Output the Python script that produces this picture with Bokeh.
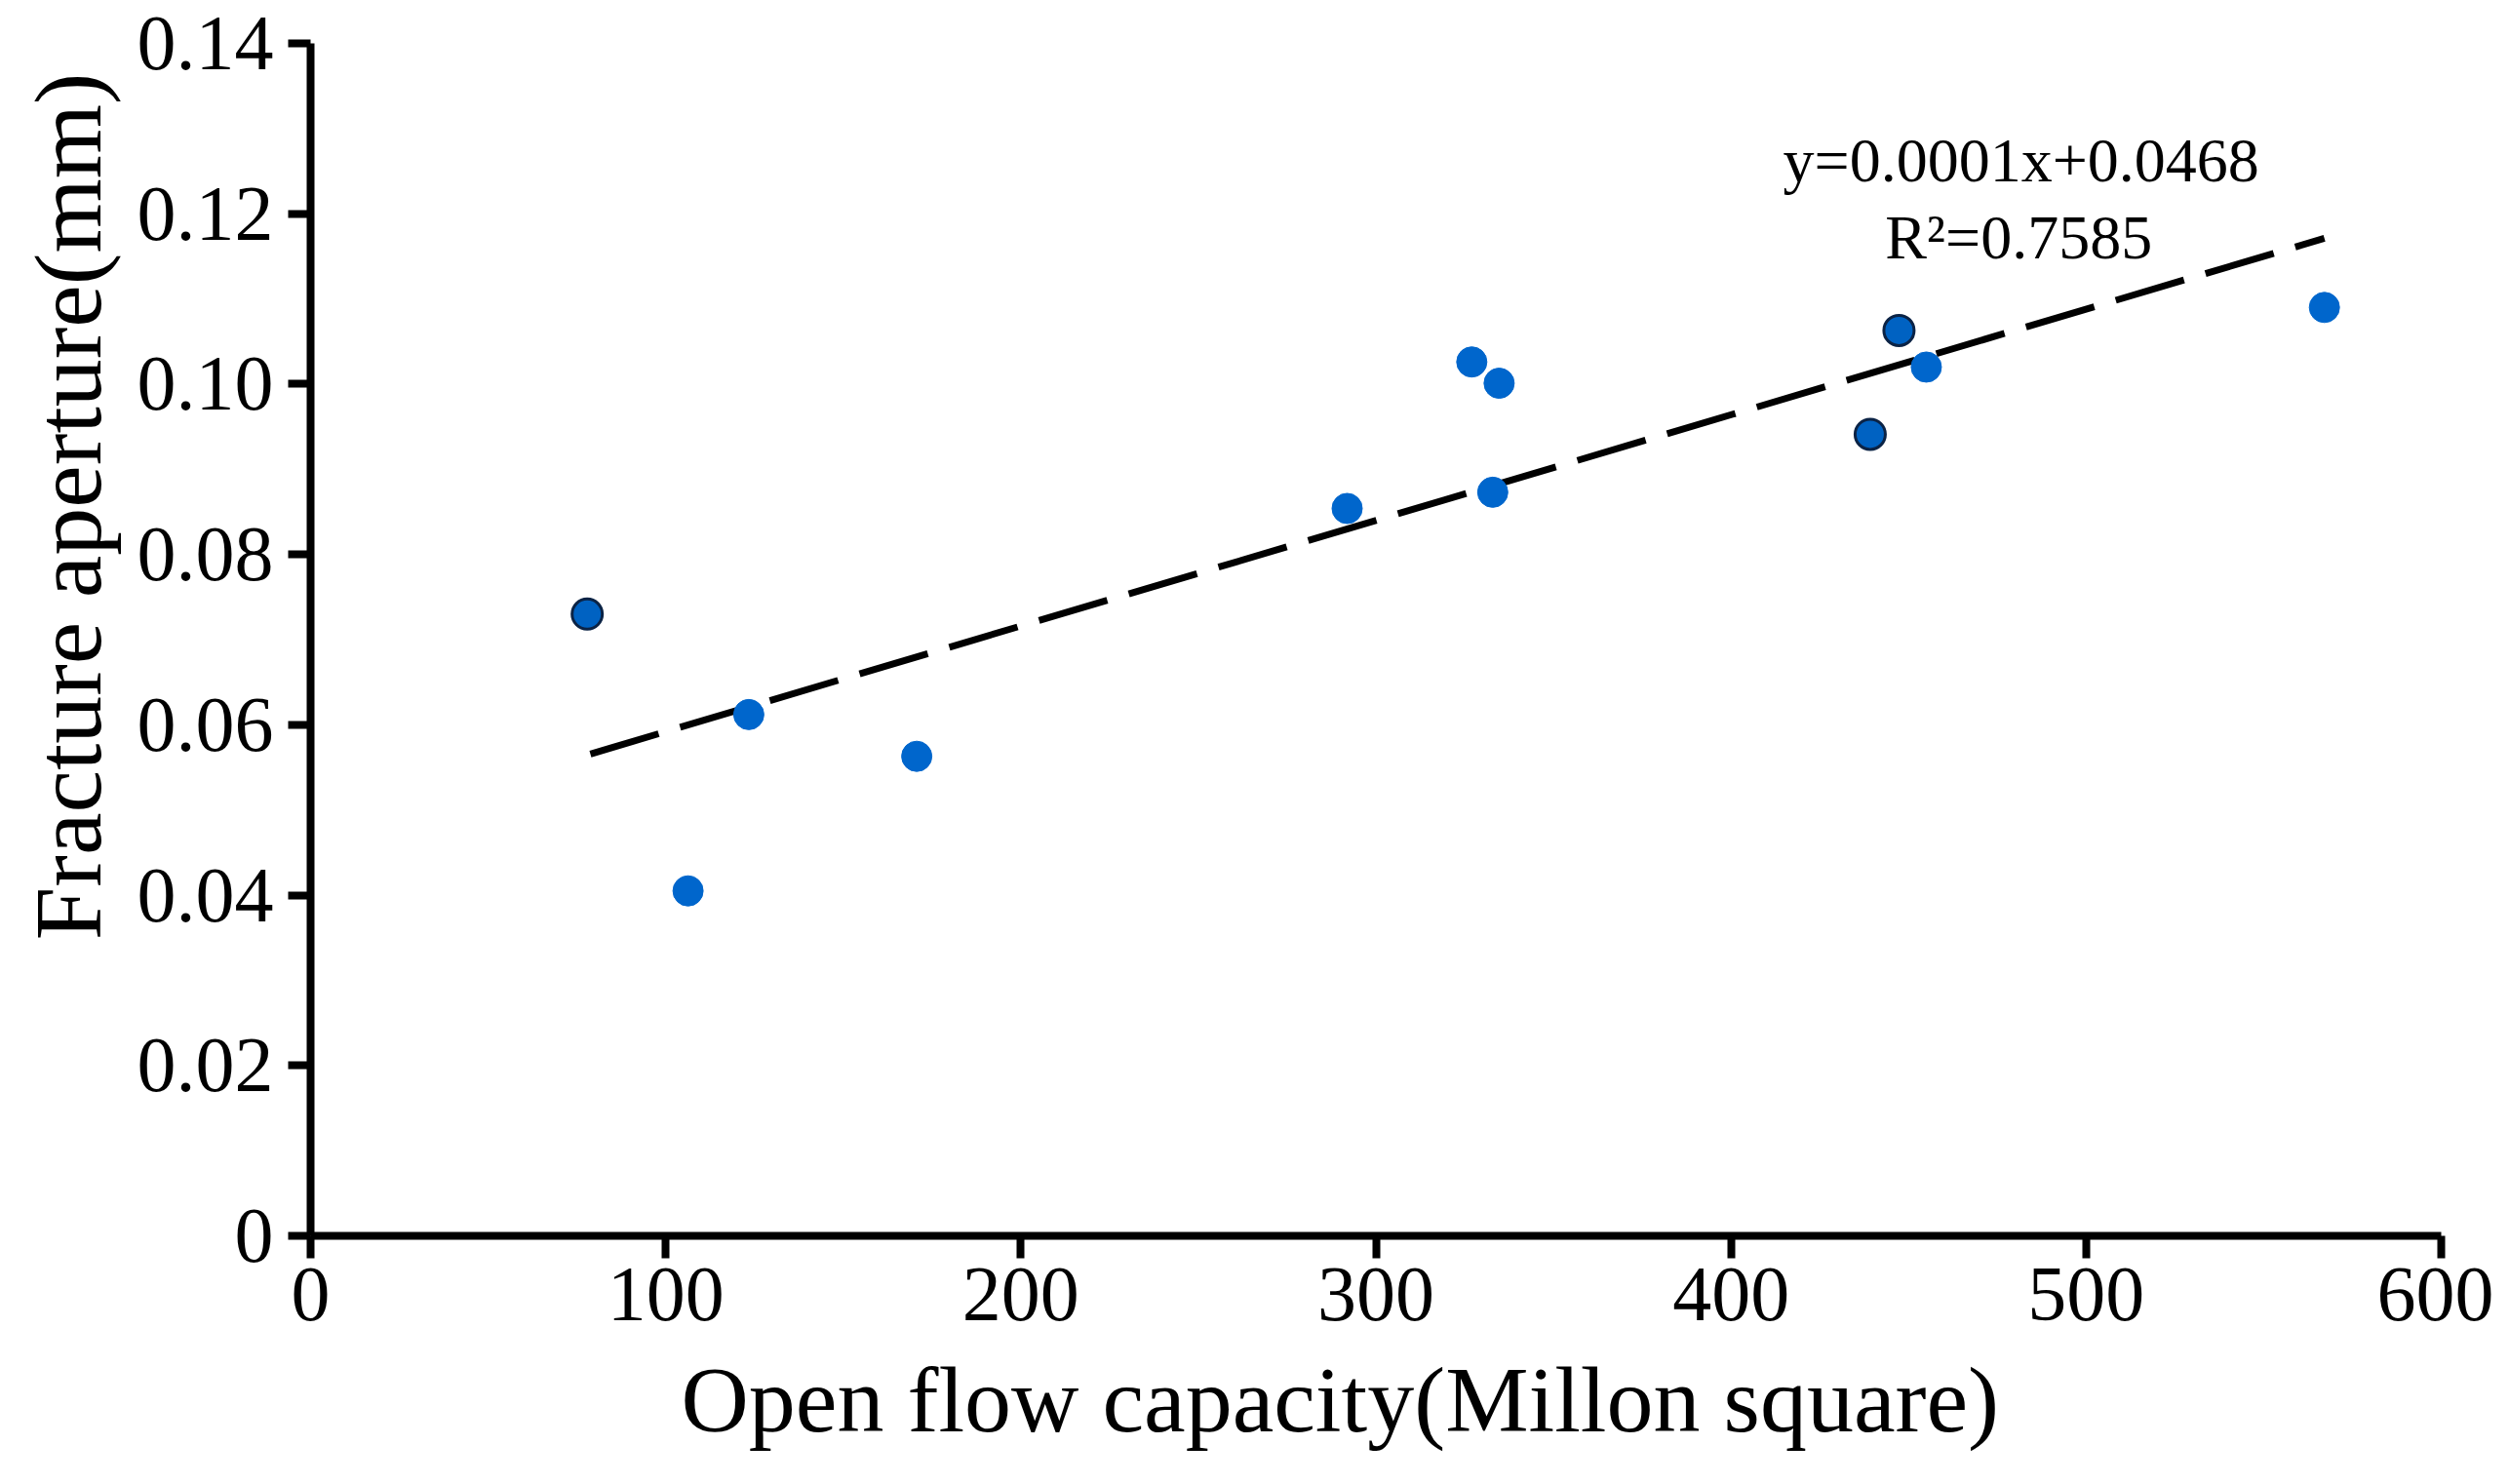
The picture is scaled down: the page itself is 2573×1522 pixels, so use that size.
from bokeh.plotting import figure
from bokeh.models import ColumnDataSource, FixedTicker, Range1d, Title
from bokeh.core.properties import value
from bokeh.embed import file_html
from bokeh.resources import INLINE

# ---- data ----
light_x = [106.3, 123.4, 170.7, 291.9, 327.0, 334.7, 332.9, 455.0, 567.1]
light_y = [0.0405, 0.0612, 0.0563, 0.0854, 0.1026, 0.1001, 0.0873, 0.1020, 0.1090]
dark_x = [77.9, 439.2, 447.3]
dark_y = [0.0730, 0.0941, 0.1063]

trend_slope = 0.000124
trend_intercept = 0.0468
trend_x = [78.8, 567.1]

x_ticks = [0, 100, 200, 300, 400, 500, 600]
x_tick_labels = ["0", "100", "200", "300", "400", "500", "600"]
y_ticks = [0, 0.02, 0.04, 0.06, 0.08, 0.10, 0.12, 0.14]
y_tick_labels = ["0", "0.02", "0.04", "0.06", "0.08", "0.10", "0.12", "0.14"]

eq_texts = ["y=0.0001x+0.0468", "R\u00b2=0.7585"]
eq_x = [481.7, 481.0]
eq_y = [0.1263, 0.1172]

x_title = "Open flow capacity(Millon square)"
y_title = "Fracture aperture(mm)"

FONT = "Liberation Serif"

p = figure(width=2557, height=1514, output_backend="svg", toolbar_location=None,
           x_range=Range1d(0, 600), y_range=Range1d(0, 0.14),
           min_border_left=317, min_border_right=54, min_border_top=44, min_border_bottom=247)
p.outline_line_color = None
p.grid.visible = False
p.background_fill_color = "white"
p.border_fill_color = "white"

for ax in (p.xaxis[0], p.yaxis[0]):
    ax.axis_line_color = "black"
    ax.axis_line_width = 8
    ax.major_tick_line_color = "black"
    ax.major_tick_line_width = 8
    ax.major_tick_out = 23
    ax.major_tick_in = 0
    ax.minor_tick_line_color = None
    ax.major_label_text_font = FONT
    ax.major_label_text_font_size = "80px"
    ax.major_label_text_color = "black"

p.xaxis[0].ticker = FixedTicker(ticks=x_ticks)
p.xaxis[0].major_label_overrides = dict(zip(x_ticks, x_tick_labels))
p.xaxis[0].major_label_standoff = 10
p.yaxis[0].ticker = FixedTicker(ticks=y_ticks)
p.yaxis[0].major_label_overrides = dict(zip(y_ticks, y_tick_labels))
p.yaxis[0].major_label_standoff = 15

# axis titles (side titles so they can be shifted like the reference)
xt = Title(text=x_title, align="left", offset=380, standoff=46,
           text_font=FONT, text_font_size="96px", text_font_style="normal", text_color="black")
p.add_layout(xt, "below")
yt = Title(text=y_title, align="right", offset=30, standoff=27,
           text_font=FONT, text_font_size="98px", text_font_style="normal", text_color="black")
p.add_layout(yt, "left")

# trend line
trend_y = [trend_slope * x + trend_intercept for x in trend_x]
p.line(trend_x, trend_y, line_color="black", line_width=7, line_dash="73 23")

# points
p.scatter(x=light_x, y=light_y, size=31, fill_color="#0066CC", line_color="#0066CC", line_width=1)
p.scatter(x=dark_x, y=dark_y, size=31, fill_color="#0062C2", line_color="#0B2345", line_width=3)

# equation
src = ColumnDataSource(dict(x=eq_x, y=eq_y, t=eq_texts))
p.text(x="x", y="y", text="t", source=src, text_font=value(FONT), text_font_size="64px",
       text_align="center", text_baseline="middle", text_color="black")

open("out.html", "w").write(file_html(p, INLINE))
